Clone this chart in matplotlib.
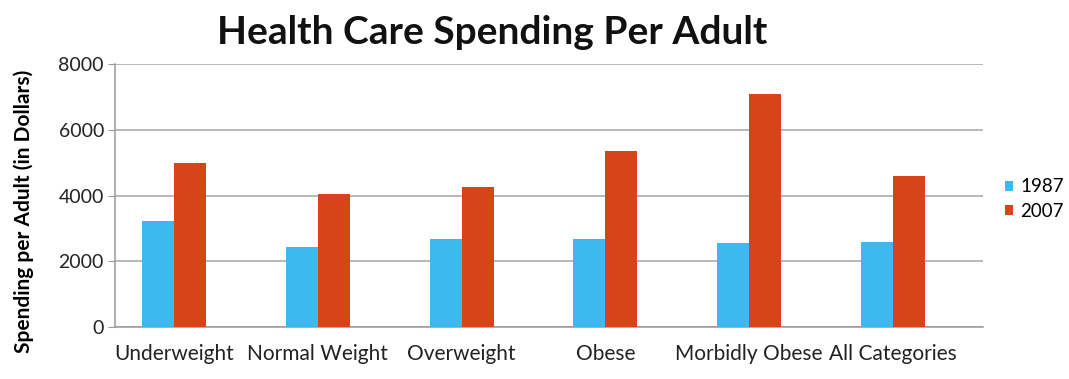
import matplotlib
matplotlib.use("Agg")
import matplotlib.pyplot as plt
import numpy as np

categories = ["Underweight", "Normal Weight", "Overweight", "Obese", "Morbidly Obese", "All Categories"]
spend_1987 = [3240, 2450, 2675, 2675, 2550, 2600]
spend_2007 = [5000, 4060, 4280, 5370, 7100, 4590]
y_ticks = [0, 2000, 4000, 6000, 8000]

plt.rcParams["font.family"] = ["Lato", "DejaVu Sans"]

fig = plt.figure(figsize=(10.69, 3.79), dpi=100)
ax = fig.add_axes([0.1076, 0.137, 0.812, 0.693])

x = np.arange(len(categories))
w = 0.222
blue = "#3CB9EE"
orange = "#D8441A"
ax.bar(x - w / 2, spend_1987, width=w, color=blue, label="1987", zorder=3)
ax.bar(x + w / 2, spend_2007, width=w, color=orange, label="2007", zorder=3)

ax.set_xlim(-0.41, 5.626)
ax.set_ylim(0, 8000)
ax.set_yticks(y_ticks)
ax.set_yticklabels([str(t) for t in y_ticks], fontsize=14, color="#222222")
ax.set_xticks(x)
ax.set_xticklabels(categories, fontsize=15, color="#222222")
ax.tick_params(axis="x", length=0, pad=12)
ax.tick_params(axis="y", length=5, color="#999999", pad=3)
ax.grid(axis="y", color="#A6A6A6", linewidth=1.1, zorder=0)
for s in ["top", "right"]:
    ax.spines[s].set_visible(False)
for s in ["left", "bottom"]:
    ax.spines[s].set_color("#999999")
    ax.spines[s].set_linewidth(1.1)

ax.set_ylabel("Spending per Adult (in Dollars)", fontsize=15, fontweight="bold")
ax.yaxis.set_label_coords(-0.093, 0.44)
fig.text(0.46, 0.915, "Health Care Spending Per Adult", ha="center", va="center",
         fontsize=28, fontweight="bold", color="#111111")

leg = ax.legend(loc="center left", bbox_to_anchor=(1.008, 0.487), frameon=False,
                fontsize=13.5, handlelength=0.45, handleheight=0.45, handletextpad=0.35,
                labelspacing=0.4, borderpad=0.3)

fig.savefig("out.png", dpi=100, facecolor="white")
